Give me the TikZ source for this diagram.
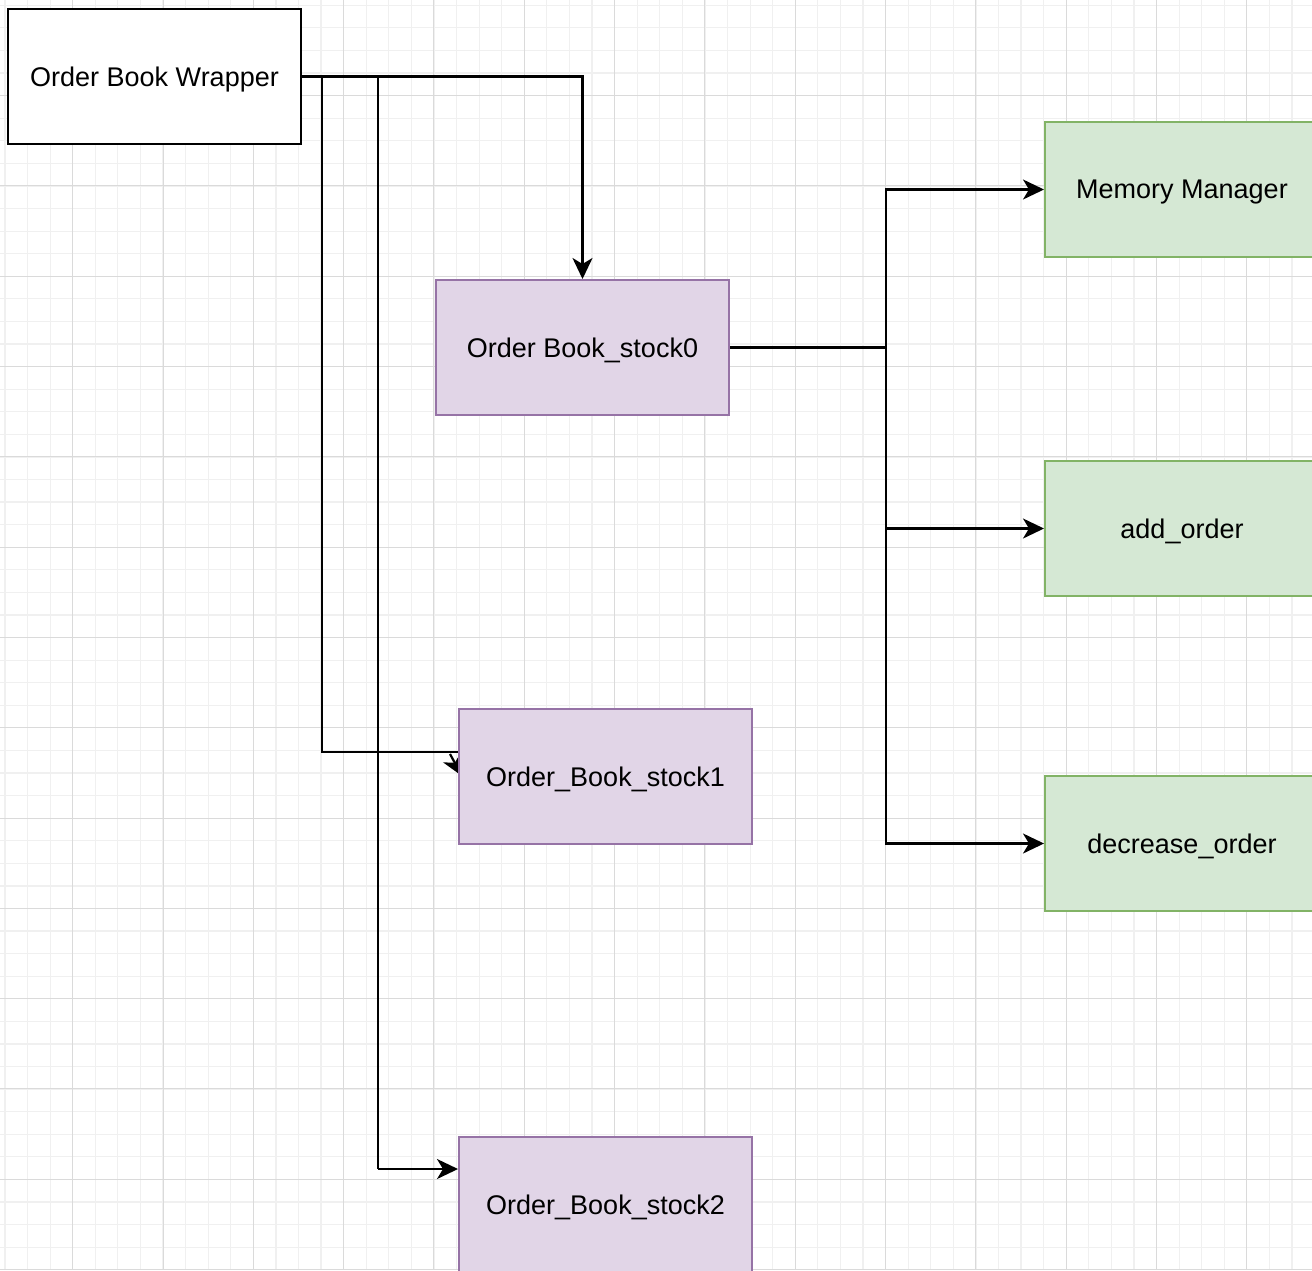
\documentclass[tikz,border=0pt]{standalone}
\usepackage{fontspec}
\setmainfont{Liberation Sans}
\usetikzlibrary{arrows.meta,calc}
\pgfdeclarelayer{gridlayer}
\pgfdeclarelayer{bg}
\pgfsetlayers{gridlayer,bg,main}
\definecolor{purplefill}{HTML}{E1D5E7}
\definecolor{purpleline}{HTML}{9673A6}
\definecolor{greenfill}{HTML}{D5E8D4}
\definecolor{greenline}{HTML}{82B366}
\definecolor{minorgrid}{HTML}{F0F0F0}
\definecolor{majorgrid}{HTML}{DADADA}
\tikzset{
  box/.style={draw, line width=2pt, anchor=north west, minimum width=293pt, minimum height=135pt, inner sep=0pt, text depth=0pt, font=\fontsize{27}{32}\selectfont},
  plainbox/.style={box, draw=black, fill=white},
  purplebox/.style={box, draw=purpleline, fill=purplefill},
  greenbox/.style={box, draw=greenline, fill=greenfill, minimum width=274pt},
  conn/.style={line width=2.2pt, draw=black},
  arr/.style={conn, -{Stealth[length=21pt,width=20pt,inset=6pt]}}
}
\begin{document}
\begin{tikzpicture}[x=1pt,y=-1pt]
\useasboundingbox (0,0) rectangle (1312,1270);
\begin{pgfonlayer}{gridlayer}
  \fill[white] (0,0) rectangle (1312,1270);
  \foreach \i in {0,...,58} {\draw[minorgrid, line width=1.2pt] ({4.96+22.58*\i},0) -- ++(0,1270);}
  \foreach \i in {0,...,56} {\draw[minorgrid, line width=1.2pt] (0,{5.3+22.58*\i}) -- ++(1312,0);}
  \foreach \i in {0,...,14} {\draw[majorgrid, line width=1pt] ({72.7+90.3*\i},0) -- ++(0,1270);}
  \foreach \i in {0,...,13} {\draw[majorgrid, line width=1pt] (0,{95.6+90.3*\i}) -- ++(1312,0);}
\end{pgfonlayer}

\node[plainbox] (wrapper) at (7,8) {Order Book Wrapper};
\node[purplebox] (s0) at (435,279) {Order Book\_stock0};
\node[purplebox] (s1) at (458,708) {Order\_Book\_stock1};
\node[purplebox] (s2) at (458,1136) {Order\_Book\_stock2};
\node[greenbox] (mm) at (1044,121) {Memory Manager};
\node[greenbox] (add) at (1044,460) {add\_order};
\node[greenbox] (dec) at (1044,775) {decrease\_order};

\coordinate (j1) at (wrapper.east -| 322,0);
\coordinate (j2) at (wrapper.east -| 378,0);
\coordinate (s1in) at (458,752);
\coordinate (s1tip) at (462,776);
\coordinate (s2in) at (458,1169);
\coordinate (bus) at (s0.east -| 886,0);

\begin{pgfonlayer}{bg}
  \draw[arr] (wrapper.east) -| (s0.north);
  \draw[conn] (wrapper.east) -- (j1) |- (s1in);
  \draw[arr] (450,754) -- (s1tip);
  \draw[conn] (j1) -- (j2) -- (j2 |- s2in);
  \draw[arr] (j2 |- s2in) -- (s2in);
  \draw[conn] (s0.east) -- (bus);
  \draw[arr] (bus) |- (mm.west);
  \draw[arr] (bus) |- (add.west);
  \draw[arr] (bus) |- (dec.west);
\end{pgfonlayer}
\end{tikzpicture}
\end{document}
